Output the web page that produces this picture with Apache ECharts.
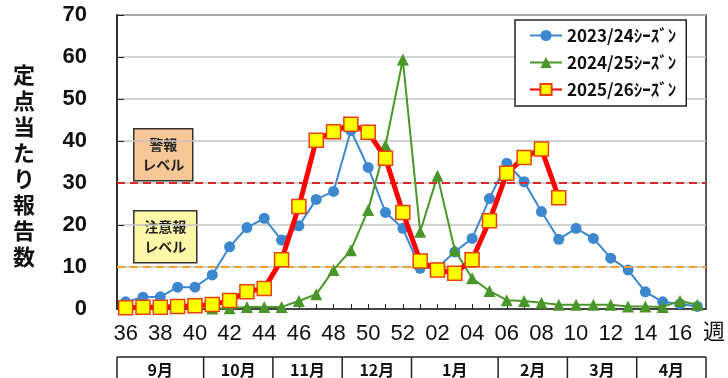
<!DOCTYPE html>
<html><head><meta charset="utf-8">
<script src="https://cdn.jsdelivr.net/npm/echarts@6/dist/echarts.min.js"></script>
<style>html,body{margin:0;padding:0;background:#fff}#c{width:728px;height:378px}</style>
</head><body><div id="c"></div>
<script>
var weeks = ['36','37','38','39','40','41','42','43','44','45','46','47','48','49','50','51','52',
             '01','02','03','04','05','06','07','08','09','10','11','12','13','14','15','16','17'];
var s2324 = [1.7,2.8,2.9,5.2,5.2,8.1,14.8,19.4,21.6,16.4,19.8,26.1,28.0,42.5,33.7,23.0,19.2,
             9.7,9.9,13.6,16.8,26.3,34.7,30.3,23.2,16.6,19.2,16.8,12.1,9.3,4.1,1.7,1.2,0.6];
var s2425 = [null,null,null,null,null,0.1,0.2,0.5,0.5,0.5,1.9,3.5,9.3,14.0,23.6,39.0,59.4,
             18.4,31.7,14.0,7.3,4.3,2.1,1.9,1.5,1.0,1.0,1.0,1.0,0.6,0.6,0.5,1.9,1.0];
var s2526 = [0.3,0.4,0.4,0.6,0.8,1.1,2.0,4.1,4.9,11.7,24.4,40.2,42.2,44.0,42.1,35.9,23.0,
             11.4,9.3,8.5,11.7,21.0,32.3,36.1,38.1,26.5];
var seriesNames = ['2023/24ｼｰｽﾞﾝ','2024/25ｼｰｽﾞﾝ','2025/26ｼｰｽﾞﾝ'];
var yTicks = [0,10,20,30,40,50,60,70];
var alarmLevel = 30, warnLevel = 10;
var monthLabels = ['9月','10月','11月','12月','1月','2月','3月','4月'];
var monthStart = [0,5,9,13,17,22,26,30];
var monthEnd = 34;

var JP = '"Noto Sans CJK JP", sans-serif';
var NUM = '"Liberation Sans", Arial, sans-serif';
var chart = echarts.init(document.getElementById('c'));
var option = {
  animation: false,
  backgroundColor: '#fff',
  grid: {left: 117, right: 22, top: 15, bottom: 69, show: true, borderColor: '#222', borderWidth: 1.5},
  legend: {
    orient: 'vertical', left: 515, top: 20, width: 187,
    backgroundColor: '#fff', borderColor: '#222', borderWidth: 1.5,
    padding: [7, 10, 8, 14], itemGap: 10, itemWidth: 32, itemHeight: 14,
    textStyle: {fontFamily: JP, fontSize: 17, color: '#111', fontWeight: 'bold'},
    data: seriesNames
  },
  xAxis: {
    type: 'category', data: weeks, boundaryGap: true,
    axisLine: {lineStyle: {color: '#222', width: 1.5}},
    axisTick: {show: true, inside: true, alignWithLabel: true, interval: 0, length: 5, lineStyle: {color: '#222'}},
    axisLabel: {interval: 1, fontFamily: NUM, fontSize: 22, color: '#111', margin: 14},
    splitLine: {show: false}
  },
  yAxis: {
    type: 'value', min: yTicks[0], max: yTicks[yTicks.length-1], interval: 10,
    axisLine: {show: true, lineStyle: {color: '#222', width: 1.5}},
    axisTick: {show: true, inside: true, length: 7, lineStyle: {color: '#222'}},
    axisLabel: {fontFamily: NUM, fontSize: 22, color: '#111', fontWeight: 'bold', margin: 30},
    splitLine: {lineStyle: {color: '#c4c4c4', width: 1.5}}
  },
  series: [
    {
      name: seriesNames[0], type: 'line', data: s2324, z: 3,
      symbol: 'circle', symbolSize: 11, showAllSymbol: true,
      lineStyle: {color: '#3d87cf', width: 2},
      itemStyle: {color: '#3d87cf'}
    },
    {
      name: seriesNames[1], type: 'line', data: s2425, z: 4,
      symbol: 'triangle', symbolSize: 12, showAllSymbol: true,
      lineStyle: {color: '#4a962a', width: 2},
      itemStyle: {color: '#4a962a'}
    },
    {
      name: seriesNames[2], type: 'line', data: s2526, z: 5,
      symbol: 'rect', symbolSize: 14, showAllSymbol: true,
      lineStyle: {color: '#ff0000', width: 5},
      itemStyle: {color: '#ffff00', borderColor: '#e8400a', borderWidth: 1.5},
      markLine: {
        silent: true, symbol: 'none', label: {show: false},
        data: [
          {yAxis: alarmLevel, lineStyle: {color: '#d42a2a', type: [8, 5], width: 2}},
          {yAxis: warnLevel, lineStyle: {color: '#f0a030', type: [8, 5], width: 2}}
        ]
      }
    }
  ],
  graphic: []
};
chart.setOption(option);

var g = [];
g.push({type: 'text', left: 13, top: 62, z: 10,
  style: {text: '定\n点\n当\nた\nり\n報\n告\n数', font: 'bold 22px ' + JP, fill: '#111', lineHeight: 26}});
g.push({type: 'text', left: 703, top: 320, z: 10,
  style: {text: '週', font: '22px ' + JP, fill: '#111'}});
g.push({type: 'group', left: 133, top: 128, z: 10, children: [
  {type: 'rect', shape: {x: 0, y: 0, width: 59, height: 52}, style: {fill: '#f9c795', stroke: '#333', lineWidth: 1.5}},
  {type: 'text', style: {x: 29.5, y: 26, text: '警報\nレベル', font: 'bold 14px ' + JP, fill: '#222', align: 'center', verticalAlign: 'middle', lineHeight: 20}}
]});
g.push({type: 'group', left: 133, top: 210, z: 10, children: [
  {type: 'rect', shape: {x: 0, y: 0, width: 63, height: 52}, style: {fill: '#fff7a8', stroke: '#333', lineWidth: 1.5}},
  {type: 'text', style: {x: 31.5, y: 26, text: '注意報\nレベル', font: 'bold 14px ' + JP, fill: '#222', align: 'center', verticalAlign: 'middle', lineHeight: 20}}
]});
var c0 = chart.convertToPixel({xAxisIndex: 0}, 0);
var c1 = chart.convertToPixel({xAxisIndex: 0}, 1);
var band = c1 - c0;
function edge(i) { return c0 - band / 2 + i * band; }
var tTop = 357, tBot = 392;
var xL = edge(0), xR = edge(monthEnd);
g.push({type: 'line', shape: {x1: xL, y1: tTop, x2: xR, y2: tTop}, style: {stroke: '#222', lineWidth: 1.5}});
g.push({type: 'line', shape: {x1: xR, y1: tTop, x2: xR, y2: tBot}, style: {stroke: '#222', lineWidth: 1.5}});
for (var i = 0; i < monthLabels.length; i++) {
  var a = edge(monthStart[i]);
  var b = i + 1 < monthStart.length ? edge(monthStart[i + 1]) : xR;
  g.push({type: 'line', shape: {x1: a, y1: tTop, x2: a, y2: tBot}, style: {stroke: '#222', lineWidth: 1.5}});
  g.push({type: 'text', style: {x: (a + b) / 2, y: 370, text: monthLabels[i], font: 'bold 16px ' + JP, fill: '#111', align: 'center', verticalAlign: 'middle'}});
}
chart.setOption({graphic: g});
</script></body></html>
